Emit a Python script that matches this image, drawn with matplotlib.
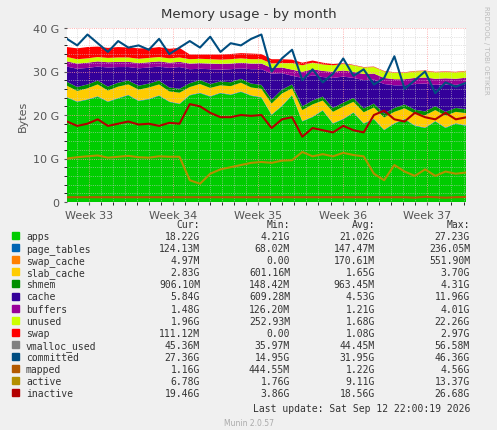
import numpy as np
import matplotlib.pyplot as plt
import matplotlib.ticker as mticker

# time in days from start of window, 40 samples
days = [i * 33 / 39 for i in range(40)]

apps = [24.0, 23.0, 23.5, 24.2, 23.0, 23.8, 24.5, 23.2, 23.6, 24.4, 23.0, 22.5,
        24.5, 25.0, 24.2, 25.0, 24.6, 25.3, 24.4, 24.0, 20.0, 22.0, 24.5, 18.5,
        19.5, 21.0, 18.0, 19.0, 20.5, 18.0, 19.0, 16.5, 18.0, 19.0, 17.5, 17.0,
        18.5, 17.0, 18.0, 17.5]
page_tables = [0.12] * 40
swap_cache = [0.005] * 40
slab_cache = [2.6, 2.4, 2.5, 2.7, 2.5, 2.6, 2.4, 2.5, 2.6, 2.5, 2.3, 2.5,
              1.8, 2.0, 1.9, 1.7, 1.9, 2.0, 1.8, 1.9, 2.5, 2.8, 1.5, 2.5,
              2.8, 2.2, 2.6, 2.8, 2.4, 2.5, 2.6, 2.8, 2.6, 2.4, 2.7, 2.8,
              2.5, 2.7, 2.6, 2.8]
shmem = [0.9] * 40
cache = [3.5, 4.2, 3.8, 3.2, 4.4, 3.6, 3.1, 4.0, 3.7, 3.2, 4.5, 5.0,
         3.2, 2.6, 3.4, 2.7, 3.0, 2.4, 3.3, 3.6, 6.0, 3.8, 2.0, 6.5,
         5.8, 4.5, 6.9, 6.0, 4.6, 6.5, 5.5, 6.8, 5.2, 4.4, 5.9, 6.4,
         4.9, 6.3, 5.3, 5.84]
buffers = [1.2] * 12 + [1.3] * 10 + [1.4] * 18
unused = [1.0] * 22 + [1.5] * 18
swap = [2.3, 2.5, 2.6, 2.4, 2.3, 2.4, 2.3, 2.4, 2.2, 2.3, 2.2, 2.2,
        1.1, 1.0, 1.1, 1.2, 1.2, 1.2, 1.3, 1.2, 1.0, 0.9, 0.8, 0.6,
        0.5, 0.4, 0.3, 0.2, 0.1, 0.1, 0.1, 0.1, 0.1, 0.1, 0.1, 0.1,
        0.1, 0.1, 0.1, 0.1]

committed = [37.5, 36.0, 38.5, 36.5, 34.5, 37.0, 35.5, 36.0, 35.0, 37.5, 34.0, 35.5,
             37.0, 35.5, 38.0, 34.5, 36.5, 36.0, 37.5, 38.5, 30.0, 33.0, 35.0, 28.0,
             30.5, 27.5, 29.5, 33.0, 29.0, 30.5, 27.0, 28.5, 33.5, 26.0, 28.0, 30.0,
             25.0, 27.5, 26.5, 27.4]
mapped = [1.1] * 34 + [1.0, 1.2, 1.1, 1.0, 1.1, 1.16]
active = [10.0, 10.3, 10.5, 10.7, 10.2, 10.4, 10.6, 10.3, 10.2, 10.5, 10.4, 10.4,
          5.0, 4.2, 6.5, 7.5, 8.0, 8.5, 9.0, 9.2, 9.0, 9.5, 9.6, 11.5,
          10.5, 11.0, 10.5, 11.3, 10.8, 10.5, 6.5, 5.0, 8.5, 7.0, 6.0, 7.5,
          6.0, 7.0, 6.5, 6.78]
inactive = [18.5, 17.5, 18.0, 19.0, 17.5, 18.0, 18.5, 17.8, 18.0, 17.5, 18.2, 18.0,
            22.5, 22.0, 20.5, 19.5, 19.5, 20.0, 19.8, 20.0, 17.0, 19.0, 19.5, 15.0,
            17.0, 16.5, 16.0, 17.5, 16.5, 16.0, 20.0, 21.0, 19.0, 18.5, 20.5, 19.5,
            19.0, 20.5, 19.0, 19.46]

labels = ['apps', 'page_tables', 'swap_cache', 'slab_cache', 'shmem', 'cache',
          'buffers', 'unused', 'swap', 'vmalloc_used', 'committed', 'mapped',
          'active', 'inactive']
legend_colors = ['#00cc00', '#0066b3', '#ff8000', '#ffcc00', '#008f00', '#330099',
                 '#990099', '#ccff00', '#ff0000', '#808080', '#004d80', '#b35a00',
                 '#b38f00', '#b30000']
cur = ['18.22G', '124.13M', '4.97M', '2.83G', '906.10M', '5.84G', '1.48G', '1.96G',
       '111.12M', '45.36M', '27.36G', '1.16G', '6.78G', '19.46G']
mins = ['4.21G', '68.02M', '0.00', '601.16M', '148.42M', '609.28M', '126.20M',
        '252.93M', '0.00', '35.97M', '14.95G', '444.55M', '1.76G', '3.86G']
avgs = ['21.02G', '147.47M', '170.61M', '1.65G', '963.45M', '4.53G', '1.21G',
        '1.68G', '1.08G', '44.45M', '31.95G', '1.22G', '9.11G', '18.56G']
maxs = ['27.23G', '236.05M', '551.90M', '3.70G', '4.31G', '11.96G', '4.01G',
        '22.26G', '2.97G', '56.58M', '46.36G', '4.56G', '13.37G', '26.68G']

fig = plt.figure(figsize=(4.97, 4.31), dpi=100, facecolor='#f0f0f0')
ax = fig.add_axes([67 / 497, 1 - 203 / 431, 399 / 497, 174 / 431])
ax.set_facecolor('white')

stack = [apps, page_tables, swap_cache, slab_cache, shmem, cache, buffers, unused, swap]
ax.stackplot(days, *stack, colors=legend_colors[:9], linewidth=0)
ax.plot(days, committed, color='#004d80', lw=1.5)
ax.plot(days, mapped, color='#b35a00', lw=1.5)
ax.plot(days, active, color='#b38f00', lw=1.5)
ax.plot(days, inactive, color='#b30000', lw=1.5)

ax.set_xlim(0, 33)
ax.set_ylim(0, 40)
ax.set_yticks([0, 10, 20, 30, 40])
ax.set_yticklabels(['0', '10 G', '20 G', '30 G', '40 G'])
ax.yaxis.set_minor_locator(mticker.MultipleLocator(2))
week_pos = [1.8, 8.8, 15.8, 22.8, 29.8]
ax.set_xticks(week_pos)
ax.set_xticklabels(['Week 33', 'Week 34', 'Week 35', 'Week 36', 'Week 37'])
ax.set_xticks([d for d in np.arange(0.8, 33, 1)], minor=True)
ax.grid(which='major', color='#ff9999', ls=':', lw=0.6)
ax.grid(which='minor', color='#cccccc', ls=':', lw=0.5)
ax.tick_params(labelsize=8, colors='#555555', length=2)
for s in ax.spines.values():
    s.set_visible(False)
ax.set_ylabel('Bytes', fontsize=8, color='#555555')
fig.text(0.5, 1 - 18 / 431, 'Memory usage - by month', ha='center', fontsize=9.5, color='#333333')
fig.text(486 / 497, 1 - 6 / 431, 'RRDTOOL / TOBI OETIKER', rotation=270, fontsize=5,
         color='#bbbbbb', ha='center', va='top')

fs = 7
mono = 'DejaVu Sans Mono'
ty = 1 - 228 / 431
for xpos, head in [(200, 'Cur:'), (290, 'Min:'), (375, 'Avg:'), (470, 'Max:')]:
    fig.text(xpos / 497, ty, head, ha='right', fontsize=fs, family=mono, color='#333333')
for i, lab in enumerate(labels):
    y = 1 - (240 + i * 12.1) / 431
    fig.patches.append(plt.Rectangle((12 / 497, y), 7 / 497, 7 / 431, color=legend_colors[i],
                                     transform=fig.transFigure))
    fig.text(26 / 497, y, lab, fontsize=fs, family=mono, color='#333333')
    fig.text(200 / 497, y, cur[i], ha='right', fontsize=fs, family=mono, color='#333333')
    fig.text(290 / 497, y, mins[i], ha='right', fontsize=fs, family=mono, color='#333333')
    fig.text(375 / 497, y, avgs[i], ha='right', fontsize=fs, family=mono, color='#333333')
    fig.text(470 / 497, y, maxs[i], ha='right', fontsize=fs, family=mono, color='#333333')
fig.text(470 / 497, 1 - 412 / 431, 'Last update: Sat Sep 12 22:00:19 2026', ha='right',
         fontsize=fs, family=mono, color='#333333')
fig.text(0.5, 1 - 426 / 431, 'Munin 2.0.57', ha='center', fontsize=5.5, color='#aaaaaa')

fig.savefig('out.png', dpi=100, facecolor=fig.get_facecolor())
